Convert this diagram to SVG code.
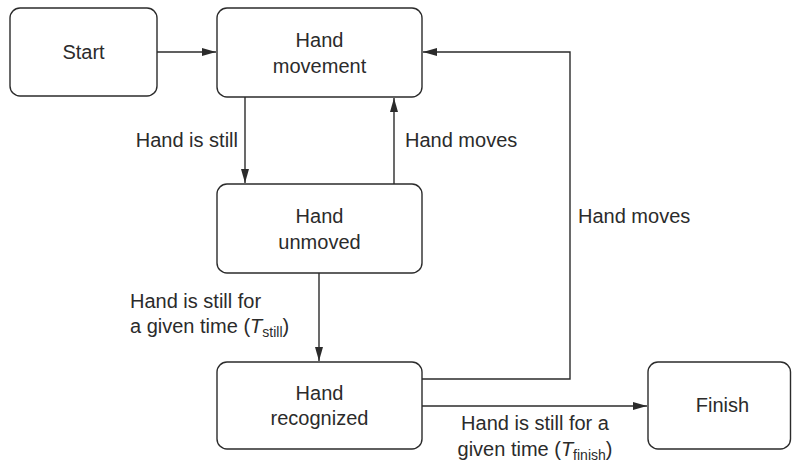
<svg xmlns="http://www.w3.org/2000/svg" width="792" height="464" viewBox="0 0 792 464">
<style>
.box{fill:#fff;stroke:#2b2b2b;stroke-width:1.4}
.t{font-family:"Liberation Sans",Arial,sans-serif;font-size:20px;fill:#2b2b2b}
.c{text-anchor:middle}
.e{text-anchor:end}
.ln{fill:none;stroke:#2b2b2b;stroke-width:1.4}
</style>
<defs>
<marker id="ah" viewBox="0 0 14 8" refX="14" refY="4" markerWidth="14" markerHeight="8" markerUnits="userSpaceOnUse" orient="auto">
<path d="M0,0 L14,4 L0,8 Z" fill="#2b2b2b"/>
</marker>
</defs>
<rect width="792" height="464" fill="#fff"/>
<g id="connectors">
<line class="ln" x1="157" y1="52" x2="216" y2="52" marker-end="url(#ah)"/>
<line class="ln" x1="245" y1="97" x2="245" y2="183" marker-end="url(#ah)"/>
<line class="ln" x1="394" y1="184" x2="394" y2="98" marker-end="url(#ah)"/>
<line class="ln" x1="319" y1="273" x2="319" y2="361" marker-end="url(#ah)"/>
<polyline class="ln" points="422,379 570,379 570,52 423,52" marker-end="url(#ah)"/>
<line class="ln" x1="422" y1="406" x2="647" y2="406" marker-end="url(#ah)"/>
<text class="t e" x="238" y="147">Hand is still</text>
<text class="t" x="405" y="147">Hand moves</text>
<text class="t" x="578" y="223">Hand moves</text>
<text class="t" x="130" y="308">Hand is still for</text>
<text class="t" x="130" y="333">a given time (<tspan font-style="italic">T</tspan><tspan font-size="14" dy="4">still</tspan><tspan dy="-4">)</tspan></text>
<text class="t c" x="535" y="430">Hand is still for a</text>
<text class="t c" x="535" y="456">given time (<tspan font-style="italic">T</tspan><tspan font-size="14" dy="4">finish</tspan><tspan dy="-4">)</tspan></text>
</g>
<g id="start">
<rect class="box" x="10" y="8" width="147" height="88" rx="10"/>
<text class="t c" x="83.5" y="59">Start</text>
</g>
<g id="hand-movement">
<rect class="box" x="217" y="8" width="205" height="89" rx="10"/>
<text class="t c" x="319.5" y="47">Hand</text>
<text class="t c" x="319.5" y="73">movement</text>
</g>
<g id="hand-unmoved">
<rect class="box" x="217" y="184" width="205" height="89" rx="10"/>
<text class="t c" x="319.5" y="223">Hand</text>
<text class="t c" x="319.5" y="249">unmoved</text>
</g>
<g id="hand-recognized">
<rect class="box" x="217" y="362" width="205" height="87" rx="10"/>
<text class="t c" x="319.5" y="400">Hand</text>
<text class="t c" x="319.5" y="425">recognized</text>
</g>
<g id="finish">
<rect class="box" x="648" y="362" width="142.5" height="87" rx="10"/>
<text class="t c" x="722.5" y="412">Finish</text>
</g>
</svg>
